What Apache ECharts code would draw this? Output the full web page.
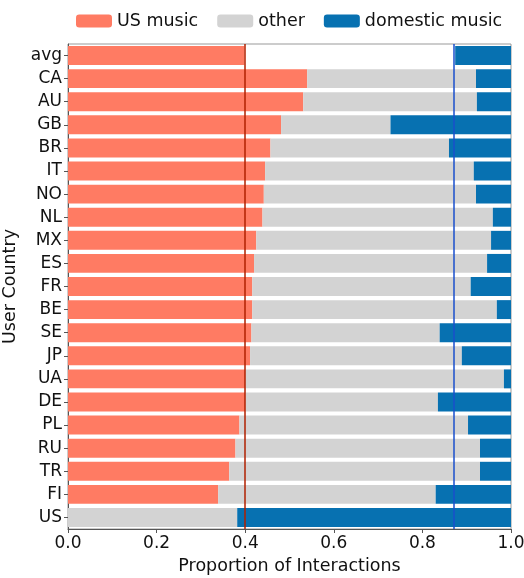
<!DOCTYPE html>
<html>
<head>
<meta charset="utf-8">
<script src="https://cdn.jsdelivr.net/npm/echarts@6/dist/echarts.min.js"></script>
<style>html,body{margin:0;padding:0;background:#fff}#c{width:524px;height:578px}</style>
</head>
<body>
<div id="c"></div>
<script>
const countries = ['avg','CA','AU','GB','BR','IT','NO','NL','MX','ES','FR','BE','SE','JP','UA','DE','PL','RU','TR','FI','US'];
const usMusic  = [0.398,0.540,0.531,0.481,0.457,0.445,0.442,0.439,0.425,0.420,0.416,0.416,0.414,0.411,0.400,0.400,0.387,0.378,0.364,0.339,0];
const other    = [0.476,0.381,0.392,0.247,0.403,0.471,0.479,0.520,0.530,0.526,0.493,0.552,0.425,0.478,0.584,0.435,0.516,0.552,0.566,0.491,0.382];
const domestic = [0.126,0.079,0.077,0.272,0.140,0.084,0.079,0.041,0.045,0.054,0.091,0.032,0.161,0.111,0.016,0.165,0.097,0.070,0.070,0.170,0.618];
const xTicks = [0, 0.2, 0.4, 0.6, 0.8, 1.0];
const avgUS = usMusic[0];
const avgDomesticStart = 1 - domestic[0];

const FONT = 'DejaVu Sans';
const chart = echarts.init(document.getElementById('c'), null, {renderer: 'canvas'});
const otherData = other.map((v, i) => i === 0 ? {value: v, itemStyle: {color: 'rgba(0,0,0,0)'}} : v);
chart.setOption({
  animation: false,
  textStyle: {fontFamily: FONT},
  grid: {left: 68, right: 13, top: 44, bottom: 49, containLabel: false, outerBoundsMode: 'none',
    show: true, borderColor: '#999', borderWidth: 1},
  legend: {
    top: 12, left: 76, padding: 0,
    itemWidth: 36, itemHeight: 13, itemGap: 19,
    textStyle: {fontFamily: FONT, fontSize: 17.5, color: '#111'},
    data: ['US music', 'other', 'domestic music']
  },
  xAxis: {
    type: 'value', min: 0, max: 1, interval: 0.2,
    name: 'Proportion of Interactions', nameLocation: 'middle', nameGap: 28,
    nameTextStyle: {fontFamily: FONT, fontSize: 17.5, color: '#111'},
    axisLine: {show: true, lineStyle: {color: '#555', width: 1}},
    axisTick: {show: true, length: 4, lineStyle: {color: '#555'}},
    axisLabel: {fontFamily: FONT, fontSize: 17, color: '#111', margin: 6,
      formatter: v => xTicks.some(t => Math.abs(t - v) < 1e-9) ? v.toFixed(1) : ''},
    splitLine: {show: false}
  },
  yAxis: {
    type: 'category', data: countries, inverse: true,
    name: 'User Country', nameLocation: 'middle', nameGap: 41, nameRotate: 90,
    nameTextStyle: {fontFamily: FONT, fontSize: 17.5, color: '#111'},
    axisLine: {show: true, lineStyle: {color: '#555', width: 1}},
    axisTick: {show: true, alignWithLabel: true, length: 4, lineStyle: {color: '#555'}},
    axisLabel: {fontFamily: FONT, fontSize: 17, color: '#111', margin: 6},
    splitLine: {show: false}
  },
  series: [
    {name: 'US music', type: 'bar', stack: 's', data: usMusic, barCategoryGap: '18%',
      itemStyle: {color: '#FF7B63'}},
    {name: 'other', type: 'bar', stack: 's', data: otherData,
      itemStyle: {color: '#D3D3D3'}},
    {name: 'domestic music', type: 'bar', stack: 's', data: domestic,
      itemStyle: {color: '#0771B1'},
      markLine: {
        silent: true, symbol: 'none', label: {show: false},
        data: [
          {xAxis: avgUS, lineStyle: {color: '#B02000', width: 1.5, type: 'solid'}},
          {xAxis: avgDomesticStart, lineStyle: {color: '#1A4FCC', width: 1.5, type: 'solid'}}
        ]
      }}
  ]
});
</script>
</body>
</html>
